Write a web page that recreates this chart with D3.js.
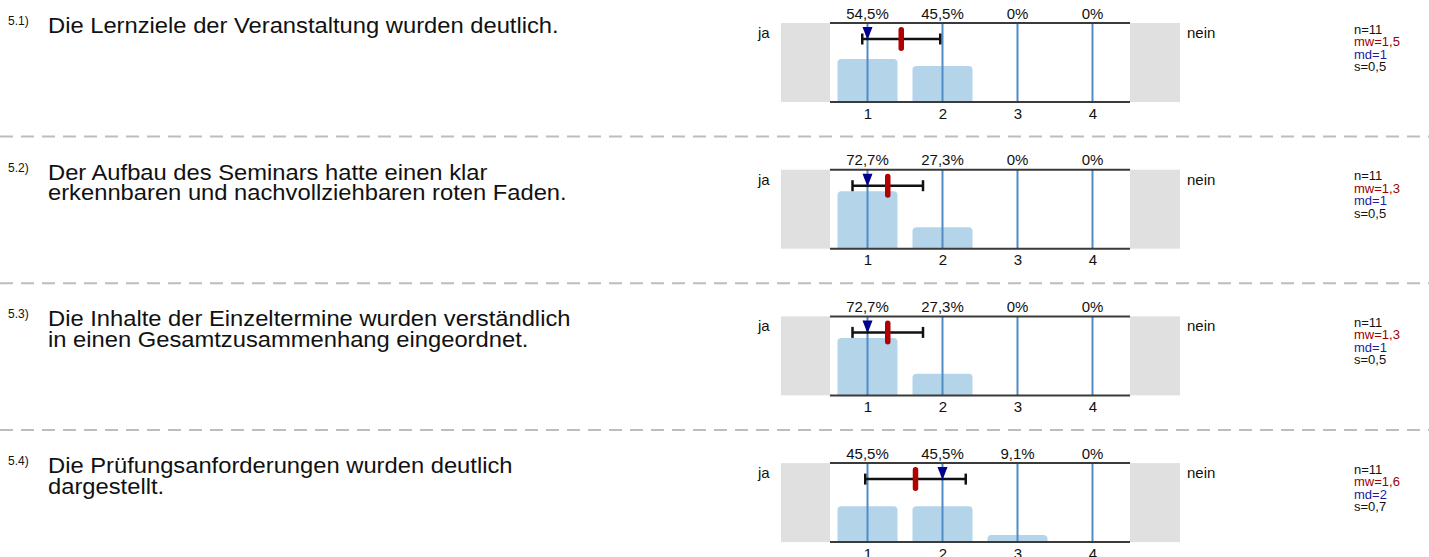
<!DOCTYPE html>
<html>
<head>
<meta charset="utf-8">
<script src="https://cdn.jsdelivr.net/npm/d3@7"></script>
<style>
  body { margin: 0; background: #fff; }
  svg { display: block; font-family: "Liberation Sans", Arial, sans-serif; }
</style>
</head>
<body>
<svg id="chart" width="1429" height="557"></svg>
<script>
// item numbers and question texts (one entry per line)
const itemNumbers = ["5.1)", "5.2)", "5.3)", "5.4)"];
const questionLines = [
  ["Die Lernziele der Veranstaltung wurden deutlich."],
  ["Der Aufbau des Seminars hatte einen klar", "erkennbaren und nachvollziehbaren roten Faden."],
  ["Die Inhalte der Einzeltermine wurden verständlich", "in einen Gesamtzusammenhang eingeordnet."],
  ["Die Prüfungsanforderungen wurden deutlich", "dargestellt."]
];
const scaleValues = [1, 2, 3, 4];
const leftPole = "ja";
const rightPole = "nein";
// percentage of answers per scale value
const percents = [
  [54.5, 45.5, 0, 0],
  [72.7, 27.3, 0, 0],
  [72.7, 27.3, 0, 0],
  [45.5, 45.5, 9.1, 0]
];
// mean, standard deviation, median, n
const means = [1.45, 1.27, 1.27, 1.64];
const sds = [0.52, 0.47, 0.47, 0.67];
const medians = [1, 1, 1, 2];
const nValues = [11, 11, 11, 11];
const mwLabels = ["1,5", "1,3", "1,3", "1,6"];
const sLabels = ["0,5", "0,5", "0,5", "0,7"];

const svg = d3.select("#chart");
const W = 1429;
const rowStep = 146.7;
const plotTop = 23, plotH = 79;
const x = d3.scaleLinear().domain([0.5, 4.5]).range([830, 1130]);
const y = d3.scaleLinear().domain([0, 100]).range([plotH, 0]);
const fmt = v => (v === 0 ? "0" : d3.format(".1f")(v).replace(".", ",")) + "%";

// bar with rounded top corners
function barPath(v, k) {
  const cx = x(scaleValues[k]), w = 60, r = 4;
  const x0 = cx - w / 2, x1 = cx + w / 2, yt = y(v), yb = y(0);
  const p = d3.path();
  p.moveTo(x0, yb);
  p.lineTo(x0, yt + r);
  p.quadraticCurveTo(x0, yt, x0 + r, yt);
  p.lineTo(x1 - r, yt);
  p.quadraticCurveTo(x1, yt, x1, yt + r);
  p.lineTo(x1, yb);
  p.closePath();
  return p.toString();
}

// dashed separators
[0, 1, 2].forEach(i => {
  svg.append("line")
    .attr("x1", 0).attr("x2", W)
    .attr("y1", 136.5 + i * rowStep).attr("y2", 136.5 + i * rowStep)
    .attr("stroke", "#bdbdbd")
    .attr("stroke-width", 2)
    .attr("stroke-dasharray", "13,8");
});

percents.forEach((row, i) => {
  const g = svg.append("g")
    .attr("transform", `translate(0,${plotTop + i * rowStep})`);

  // question
  g.append("text")
    .attr("x", 8).attr("y", 2)
    .attr("font-size", 12)
    .attr("fill", "#111")
    .text(itemNumbers[i]);
  const q = g.append("g").attr("transform", "translate(48,0) scale(1.08,1)");
  questionLines[i].forEach((line, j) => {
    q.append("text")
      .attr("x", 0).attr("y", 10 + j * 20.5)
      .attr("font-size", 22)
      .attr("fill", "#111")
      .text(line);
  });

  // grey pole boxes
  g.append("rect").attr("x", 781).attr("y", 0).attr("width", x(0.5) - 781).attr("height", plotH).attr("fill", "#e0e0e0");
  g.append("rect").attr("x", x(4.5)).attr("y", 0).attr("width", 50).attr("height", plotH).attr("fill", "#e0e0e0");
  g.append("text").attr("x", 758).attr("y", 15).attr("font-size", 15).attr("fill", "#111").text(leftPole);
  g.append("text").attr("x", 1187).attr("y", 15).attr("font-size", 15).attr("fill", "#111").text(rightPole);

  // bars
  g.selectAll("path.bar")
    .data(row)
    .enter().append("path")
    .attr("class", "bar")
    .attr("fill", "#b4d4ea")
    .attr("d", (d, k) => d > 0 ? barPath(d, k) : null);

  // scale value lines
  g.selectAll("line.tick")
    .data(scaleValues)
    .enter().append("line")
    .attr("x1", d => x(d)).attr("x2", d => x(d))
    .attr("y1", 0).attr("y2", plotH)
    .attr("stroke", "#4f8cc6")
    .attr("stroke-width", 2);

  // frame lines
  [0, plotH].forEach(yy => {
    g.append("line")
      .attr("x1", x(0.5)).attr("x2", x(4.5))
      .attr("y1", yy).attr("y2", yy)
      .attr("stroke", "#3a3a3a")
      .attr("stroke-width", 2);
  });

  // percent labels and axis labels
  g.selectAll("text.pct")
    .data(row)
    .enter().append("text")
    .attr("x", (d, k) => x(scaleValues[k]))
    .attr("y", -4.5)
    .attr("text-anchor", "middle")
    .attr("font-size", 15)
    .attr("fill", "#111")
    .text(fmt);
  const axis = d3.axisBottom(x).tickValues(scaleValues).tickFormat(d3.format("d")).tickSize(0).tickPadding(0);
  const ag = g.append("g").attr("transform", `translate(0,${plotH})`).call(axis);
  ag.select(".domain").remove();
  ag.selectAll("text")
    .attr("y", 16.5).attr("dy", null)
    .attr("font-size", 15)
    .attr("font-family", "Liberation Sans, Arial, sans-serif")
    .attr("fill", "#111");

  // error bar (mean +/- sd)
  const ey = 16;
  const lo = means[i] - sds[i], hi = means[i] + sds[i];
  g.append("line").attr("x1", x(lo)).attr("x2", x(hi)).attr("y1", ey).attr("y2", ey)
    .attr("stroke", "#111").attr("stroke-width", 2.5);
  [lo, hi].forEach(v => {
    g.append("line").attr("x1", x(v)).attr("x2", x(v)).attr("y1", ey - 5.5).attr("y2", ey + 5.5)
      .attr("stroke", "#111").attr("stroke-width", 2.5);
  });
  // median triangle
  const mx = x(medians[i]);
  g.append("path")
    .attr("d", `M${mx - 5},${ey - 12}L${mx + 5},${ey - 12}L${mx},${ey + 1}Z`)
    .attr("fill", "#00008b");
  // mean marker
  g.append("rect")
    .attr("x", x(means[i]) - 2.75).attr("y", ey - 12)
    .attr("width", 5.5).attr("height", 24)
    .attr("rx", 2.75)
    .attr("fill", "#b00000");

  // statistics
  const stats = [
    { t: "n=" + nValues[i], c: "#111" },
    { t: "mw=" + mwLabels[i], c: "#a00000" },
    { t: "md=" + medians[i], c: "#1c1c9c" },
    { t: "s=" + sLabels[i], c: "#111" }
  ];
  stats.forEach((s, k) => {
    g.append("text")
      .attr("x", 1354).attr("y", 10.5 + k * 12.5)
      .attr("font-size", 13)
      .attr("fill", s.c)
      .text(s.t);
  });
});
</script>
</body>
</html>
